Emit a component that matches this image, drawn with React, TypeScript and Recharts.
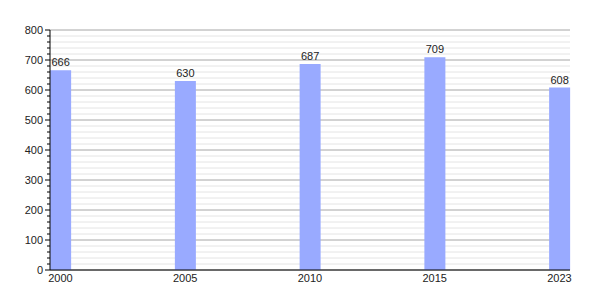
import { BarChart, Bar, XAxis, YAxis, CartesianGrid, LabelList } from "recharts";

const years = ["2000", "2005", "2010", "2015", "2023"];
const values = [666, 630, 687, 709, 608];
const yTicks = Array.from({ length: 41 }, (_, k) => k * 20);
const majorTicks = [0, 100, 200, 300, 400, 500, 600, 700, 800];

const data = years.map((year, i) => ({ i, year, value: values[i] }));

const TICK_SIZE = 5;
const TICK_MARGIN = 2;

function YTick(props: any) {
  const { x, y, payload } = props;
  const v = payload.value as number;
  const major = v % 100 === 0;
  const axisX = x + TICK_MARGIN + TICK_SIZE;
  return (
    <g>
      <line x1={axisX - (major ? TICK_SIZE : 3)} x2={axisX} y1={y} y2={y} stroke="#000" />
      {major && (
        <text x={x} y={y} dy={4} textAnchor="end" fontSize={11} fill="#222">
          {v}
        </text>
      )}
    </g>
  );
}

export default function App() {
  return (
    <div style={{ position: "absolute", left: 0, top: 0, width: 600, height: 300, background: "#fff" }}>
      <BarChart
        width={600}
        height={300}
        data={data}
        margin={{ top: 30, right: 30, left: 0, bottom: 10 }}
        style={{ fontFamily: "Liberation Sans, Arial, sans-serif" }}
      >
        <CartesianGrid horizontalValues={yTicks} vertical={false} stroke="#e4e4e4" />
        <CartesianGrid horizontalValues={majorTicks} vertical={false} stroke="#b4b4b4" />
        <XAxis
          type="number"
          dataKey="i"
          domain={[0, 4]}
          ticks={[0, 1, 2, 3, 4]}
          tickFormatter={(v: number) => years[v]}
          padding={{ left: 10.5, right: 10.5 }}
          tickLine={false}
          tickSize={2}
          height={20}
          axisLine={{ stroke: "#000" }}
          tick={{ fontSize: 11, fill: "#222" }}
        />
        <YAxis
          type="number"
          domain={[0, 800]}
          ticks={yTicks}
          interval={0}
          width={50}
          tickSize={TICK_SIZE}
          tickMargin={TICK_MARGIN}
          tickLine={false}
          axisLine={{ stroke: "#000" }}
          tick={<YTick />}
        />
        <Bar dataKey="value" fill="#99aaff" barSize={21} isAnimationActive={false}>
          <LabelList dataKey="value" position="top" offset={4} style={{ fontSize: 11, fill: "#222" }} />
        </Bar>
      </BarChart>
    </div>
  );
}
